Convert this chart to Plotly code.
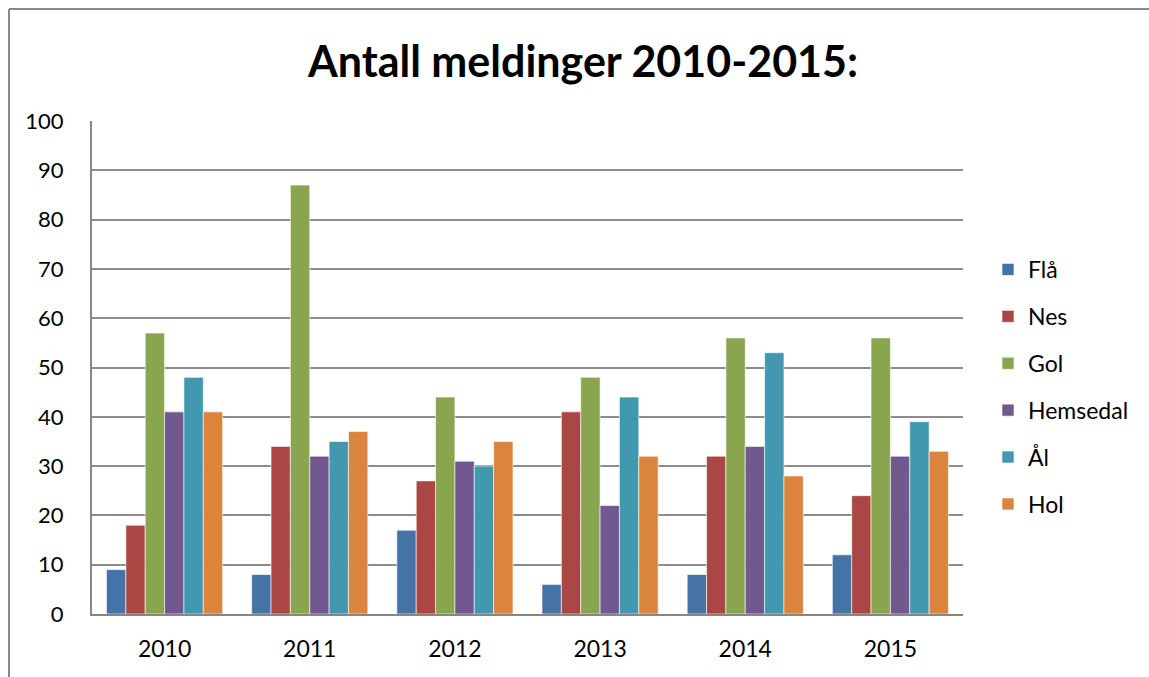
import plotly.graph_objects as go

years = ["2010", "2011", "2012", "2013", "2014", "2015"]
series_names = ["Flå", "Nes", "Gol", "Hemsedal", "Ål", "Hol"]
fla = [9, 8, 17, 6, 8, 12]
nes = [18, 34, 27, 41, 32, 24]
gol = [57, 87, 44, 48, 56, 56]
hemsedal = [41, 32, 31, 22, 34, 32]
aal = [48, 35, 30, 44, 53, 39]
hol = [41, 37, 35, 32, 28, 33]
y_ticks = [0, 10, 20, 30, 40, 50, 60, 70, 80, 90, 100]

colors = ["#4572A7", "#AA4643", "#89A54E", "#71588F", "#4198AF", "#DB843D"]
values = [fla, nes, gol, hemsedal, aal, hol]

fig = go.Figure()
for i, (name, vals) in enumerate(zip(series_names, values)):
    fig.add_trace(go.Bar(
        x=years, y=vals, name=name, legendgroup=name,
        marker=dict(color=colors[i], line=dict(color="rgba(255,255,255,0.6)", width=1)),
    ))

W, H = 1149, 677
L, T = 92, 121
pw, ph = 871, 493
R = W - L - pw
B = H - T - ph

def px(x):
    return (x - L) / pw

def py(y):
    return (T + ph - y) / ph

fig.update_layout(
    width=W, height=H,
    margin=dict(l=L, r=R, t=T, b=B, autoexpand=False),
    paper_bgcolor="white", plot_bgcolor="white",
    barmode="group", bargap=0.2, bargroupgap=0,
    font=dict(family="Lato, sans-serif", color="black"),
    title=dict(text="<b>Antall meldinger 2010-2015:</b>", x=583 / W,
               xanchor="center", y=1 - 62 / H, yanchor="middle",
               font=dict(size=43, family="Lato, sans-serif", color="black")),
    xaxis=dict(showgrid=False, showline=True, linecolor="#868686", linewidth=2,
               ticks="", tickfont=dict(size=23), ticklabelstandoff=13),
    yaxis=dict(range=[0, 100], tickvals=y_ticks, showgrid=True, gridcolor="#8c8c8c",
               gridwidth=1.5, showline=True, linecolor="#868686", linewidth=2,
               ticks="", tickfont=dict(size=22), ticklabelstandoff=22, zeroline=False),
    legend=dict(x=px(988), xanchor="left", y=py(248), yanchor="top",
                font=dict(size=23), tracegroupgap=14, itemwidth=30,
                bgcolor="rgba(0,0,0,0)"),
    showlegend=True,
)

# chart frame (left and top edges visible in the window)
fig.add_shape(type="line", xref="paper", yref="paper",
              x0=px(9), x1=px(9), y0=py(700), y1=py(9),
              line=dict(color="#8a8a8a", width=2), layer="below")
fig.add_shape(type="line", xref="paper", yref="paper",
              x0=px(9), x1=px(1170), y0=py(9), y1=py(9),
              line=dict(color="#8a8a8a", width=2), layer="below")

fig.write_html(
    "out.html",
    config={"displayModeBar": False},
    post_script="document.body.style.margin='0';document.body.style.overflow='hidden';",
)
